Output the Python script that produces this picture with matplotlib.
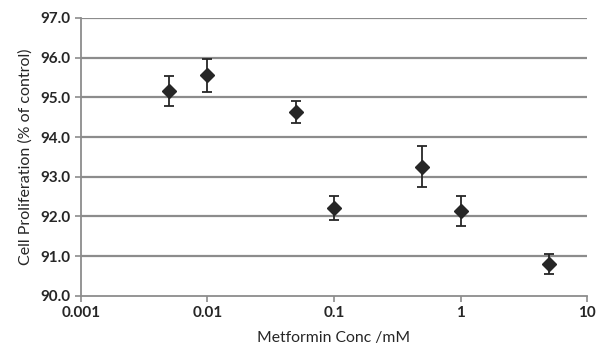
import numpy as np
import matplotlib.pyplot as plt

# Metformin dose response
conc = [0.005, 0.01, 0.05, 0.1, 0.5, 1.0, 5.0]
prolif = [95.15, 95.55, 94.63, 92.21, 93.25, 92.14, 90.81]
err = [0.38, 0.42, 0.27, 0.30, 0.52, 0.38, 0.25]

x_ticks = [0.001, 0.01, 0.1, 1, 10]
x_labels = ["0.001", "0.01", "0.1", "1", "10"]
y_ticks = np.arange(90.0, 97.5, 1.0)

plt.rcParams['font.family'] = ['Lato', 'DejaVu Sans']

fig = plt.figure(figsize=(5.98, 3.51), dpi=100)
ax = fig.add_axes([0.135, 0.157, 0.847, 0.792])

grid_col = '#8c8c8c'
for yv in y_ticks[1:]:
    ax.axhline(yv, color=grid_col, linewidth=1.6, zorder=1)

ax.errorbar(conc, prolif, yerr=err, fmt='D', color='#262626', markersize=7.5,
            ecolor='#262626', elinewidth=1.3, capsize=3.5, capthick=1.3, zorder=3)

ax.set_xscale('log')
ax.set_xlim(0.001, 10)
ax.set_ylim(90, 97)
ax.set_xticks(x_ticks)
ax.set_xticklabels(x_labels)
ax.minorticks_off()
ax.set_yticks(y_ticks)
ax.set_yticklabels([f"{v:.1f}" for v in y_ticks])

for s in ['top', 'right']:
    ax.spines[s].set_visible(False)
for s in ['left', 'bottom']:
    ax.spines[s].set_color(grid_col)
    ax.spines[s].set_linewidth(1.3)

ax.tick_params(axis='both', colors=grid_col, labelcolor='#262626', labelsize=11,
               length=4, width=1.2, direction='out')
for lab in ax.get_xticklabels() + ax.get_yticklabels():
    lab.set_fontweight('bold')

ax.set_xlabel("Metformin Conc /mM", fontsize=11.3, color='#262626', labelpad=8)
ax.set_ylabel("Cell Proliferation (% of control)", fontsize=11.5, color='#262626', labelpad=5)

fig.savefig("out.png", dpi=100)
